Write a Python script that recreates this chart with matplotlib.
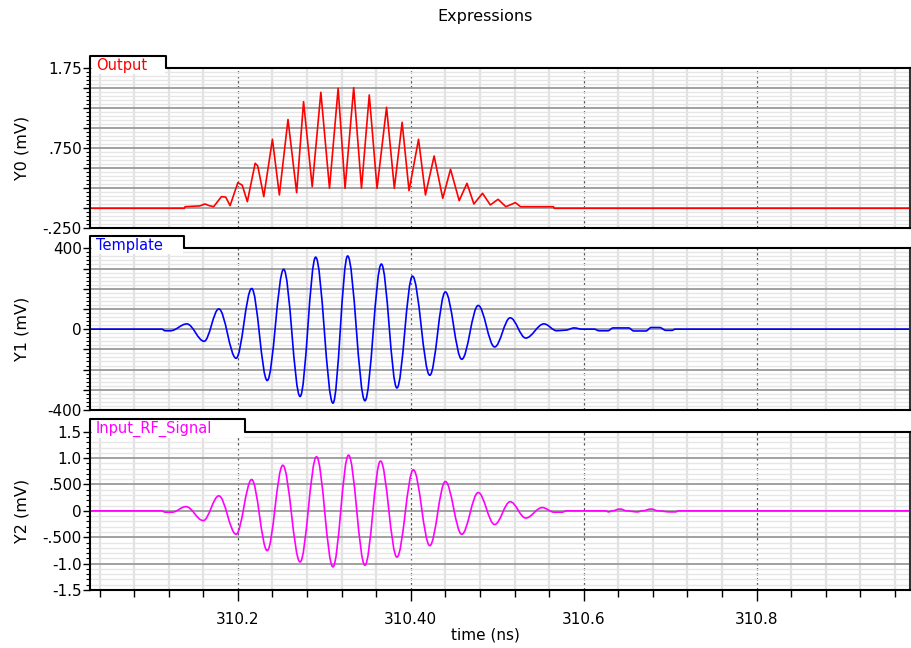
import matplotlib
matplotlib.use("Agg")
import matplotlib.pyplot as plt
from matplotlib.ticker import MultipleLocator, FixedLocator, FixedFormatter, FuncFormatter
from matplotlib.patches import Rectangle, PathPatch
from matplotlib.lines import Line2D
from matplotlib.path import Path

# ---- data (time in ns, values in mV) ----
t_out = [310.03, 310.138, 310.139, 310.156, 310.162, 310.167, 310.172, 310.181, 310.186,
         310.191, 310.200, 310.205, 310.211, 310.220, 310.223, 310.230, 310.240, 310.248,
         310.258, 310.268, 310.276, 310.286, 310.296, 310.306, 310.316, 310.324, 310.334,
         310.343, 310.352, 310.361, 310.372, 310.381, 310.390, 310.398, 310.409, 310.417,
         310.427, 310.437, 310.446, 310.456, 310.465, 310.473, 310.483, 310.492, 310.501,
         310.510, 310.521, 310.527, 310.565, 310.566, 310.98]
y_out = [0, 0, 0.02, 0.03, 0.054, 0.033, 0.02, 0.146, 0.14, 0.033, 0.32, 0.29, 0.083,
         0.5625, 0.53, 0.146, 0.8625, 0.167, 1.11, 0.196, 1.333, 0.27, 1.45, 0.25, 1.5,
         0.25, 1.508, 0.25, 1.417, 0.25, 1.2625, 0.25, 1.075, 0.22, 0.8625, 0.167, 0.654,
         0.125, 0.4875, 0.096, 0.3125, 0.054, 0.1875, 0.042, 0.1125, 0.02, 0.071, 0.02,
         0.02, 0, 0]

t_tmp = [310.03, 310.112, 310.116, 310.122, 310.141, 310.161, 310.178, 310.198, 310.216,
         310.234, 310.253, 310.272, 310.290, 310.310, 310.327, 310.347, 310.366, 310.384,
         310.402, 310.422, 310.440, 310.459, 310.478, 310.497, 310.515, 310.533, 310.554,
         310.569, 310.579, 310.589, 310.598, 310.612, 310.618, 310.628, 310.634, 310.652,
         310.658, 310.672, 310.678, 310.688, 310.695, 310.702, 310.706, 310.98]
y_tmp = [0, 0, -8, -8, 26, -60, 100, -144, 201, -254, 296, -333, 356, -366, 362, -354,
         322, -291, 262, -228, 184, -149, 117, -88, 56, -44, 26, -8, -5, 6, 0, 0, -8, -8,
         6, 6, -9, -9, 8, 8, -6, -6, 0, 0]

t_in = [310.03, 310.112, 310.116, 310.124, 310.140, 310.160, 310.178, 310.198, 310.216,
        310.234, 310.252, 310.272, 310.291, 310.310, 310.328, 310.347, 310.365, 310.384,
        310.403, 310.422, 310.440, 310.459, 310.478, 310.497, 310.515, 310.533, 310.552,
        310.566, 310.575, 310.580, 310.625, 310.629, 310.633, 310.642, 310.650, 310.662,
        310.668, 310.678, 310.686, 310.700, 310.706, 310.710, 310.98]
y_in = [0, 0, -0.025, -0.025, 0.08, -0.185, 0.284, -0.444, 0.593, -0.753, 0.864, -0.969,
        1.025, -1.062, 1.056, -1.031, 0.944, -0.877, 0.778, -0.660, 0.556, -0.444, 0.346,
        -0.259, 0.173, -0.136, 0.062, -0.025, -0.025, 0, 0, -0.02, 0, 0.035, 0, -0.02, 0,
        0.035, 0, -0.02, -0.02, 0, 0]

x_ticks = [310.2, 310.4, 310.6, 310.8]
x_ticklabels = ["310.2", "310.40", "310.6", "310.8"]

W, H = 912, 648
fig = plt.figure(figsize=(W / 100, H / 100), dpi=100)


def fx(x):
    return x / W


def fy(y):
    return 1 - y / H


def smooth_path(t, y, k=0.36):
    # cubic segments with flat tangents at each read point (sine-like swings)
    verts = [(t[0], y[0])]
    codes = [Path.MOVETO]
    for i in range(1, len(t)):
        d = t[i] - t[i - 1]
        verts += [(t[i - 1] + k * d, y[i - 1]), (t[i] - k * d, y[i]), (t[i], y[i])]
        codes += [Path.CURVE4] * 3
    return Path(verts, codes)


LEFT, RIGHT = 90, 910.5

# (top px, bottom px, ylim, major, minor, labels, ylabel, tab text, tab right px, color, t, y, smooth)
panels = [
    (68.3, 228.3, (-0.25, 1.75), 0.25, 0.05, {1.75: "1.75", 0.75: ".750", -0.25: "-.250"},
     "Y0 (mV)", "Output", 166, "#ff0000", t_out, y_out, False),
    (248.3, 410.0, (-400, 400), 100, 20, {400: "400", 0: "0", -400: "-400"},
     "Y1 (mV)", "Template", 184, "#0000ff", t_tmp, y_tmp, True),
    (431.7, 590.0, (-1.5, 1.5), 0.5, 0.1,
     {1.5: "1.5", 1.0: "1.0", 0.5: ".500", 0.0: "0", -0.5: "-.500", -1.0: "-1.0", -1.5: "-1.5"},
     "Y2 (mV)", "Input_RF_Signal", 245, "#ff00ff", t_in, y_in, True),
]

for i, (top, bot, ylim, major, minor, labels, ylabel, tabtxt, tabr, col, t, y, smooth) in enumerate(panels):
    ax = fig.add_axes([fx(LEFT), fy(bot), fx(RIGHT) - fx(LEFT), fy(top) - fy(bot)])
    ax.set_xlim(310.029, 310.978)
    ax.set_ylim(*ylim)
    ax.set_axisbelow(True)

    ax.yaxis.set_major_locator(MultipleLocator(major))
    ax.yaxis.set_minor_locator(MultipleLocator(minor))

    def fmt(v, pos, labels=labels):
        for k, s in labels.items():
            if abs(v - k) < 1e-6 * max(1, abs(k)) + 1e-9:
                return s
        return ""
    ax.yaxis.set_major_formatter(FuncFormatter(fmt))

    ax.xaxis.set_major_locator(FixedLocator(x_ticks))
    ax.xaxis.set_minor_locator(MultipleLocator(0.04))

    ax.grid(which="minor", axis="y", color="#e6e6e6", lw=1.0)
    ax.grid(which="minor", axis="x", color="#e2e2e2", lw=1.6)
    ax.grid(which="major", axis="y", color="#9a9a9a", lw=1.3)
    ax.grid(which="major", axis="x", color="#555555", lw=0.9, linestyle=(0, (2, 2)))

    ax.tick_params(axis="y", which="major", length=5, width=1, labelsize=11, pad=1)
    ax.tick_params(axis="y", which="minor", length=3, width=0.8)

    if i == 2:
        ax.xaxis.set_major_formatter(FixedFormatter(x_ticklabels))
        ax.tick_params(axis="x", which="major", length=8, width=1, labelsize=11, pad=8)
        ax.tick_params(axis="x", which="minor", length=5, width=1)
    else:
        ax.tick_params(axis="x", which="both", length=0, labelbottom=False)

    for s in ["left", "bottom", "right"]:
        ax.spines[s].set_linewidth(1.5)
        ax.spines[s].set_color("black")
    ax.spines["right"].set_color("#333333")
    ax.spines["top"].set_visible(False)

    if smooth:
        ax.add_patch(PathPatch(smooth_path(t, y), facecolor="none", edgecolor=col, lw=1.2))
    else:
        ax.plot(t, y, color=col, lw=1.2)

    # label tab on the top-left corner
    fig.add_artist(Rectangle((fx(LEFT + 1.5), fy(top + 6)), fx(tabr - 1) - fx(LEFT + 1.5),
                             fy(top - 11.5) - fy(top + 6), transform=fig.transFigure,
                             facecolor="white", edgecolor="none", zorder=3))
    fig.add_artist(Line2D([fx(LEFT), fx(LEFT), fx(tabr), fx(tabr), fx(RIGHT)],
                          [fy(top), fy(top - 12.5), fy(top - 12.5), fy(top), fy(top)],
                          transform=fig.transFigure, color="black", lw=1.5, zorder=4))
    fig.text(fx(96), fy(top - 2.5), tabtxt, color=col, fontsize=10.5, ha="left", va="center",
             zorder=5)

    fig.text(fx(22), fy((top + bot) / 2), ylabel, rotation=90, fontsize=11.5,
             ha="center", va="center")

fig.text(fx(485), fy(17), "Expressions", fontsize=11.5, ha="center", va="center")
fig.text(fx(485), fy(635), "time (ns)", fontsize=11, ha="center", va="center")

fig.savefig("out.png", dpi=100)
